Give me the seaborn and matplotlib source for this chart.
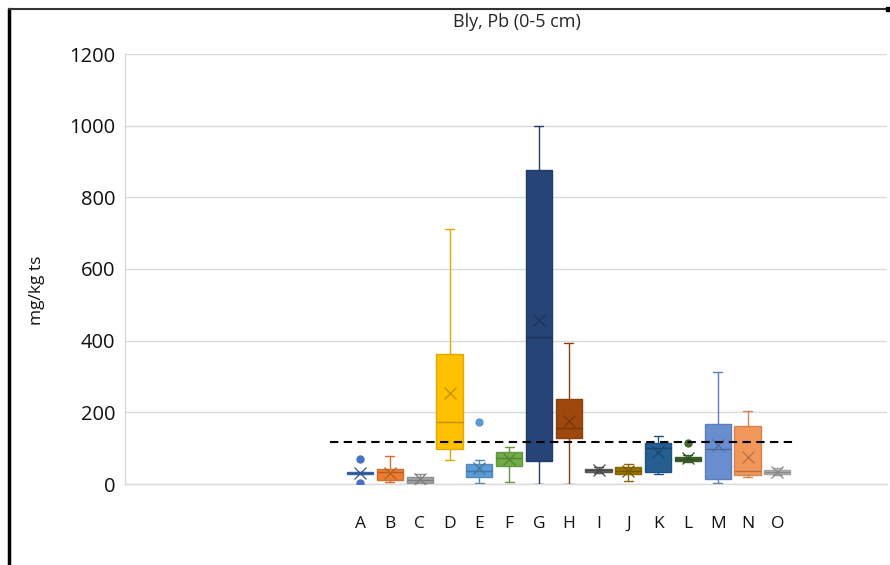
import matplotlib
matplotlib.use("Agg")
import matplotlib.pyplot as plt
from matplotlib.lines import Line2D
import matplotlib.colors as mcolors
import seaborn as sns

# Lead (Pb) concentrations per sampling area, 0-5 cm depth, mg/kg dry matter
categories = list("ABCDEFGHIJKLMNO")
q1 = [28, 11, 4, 98, 19, 51, 65, 127, 34, 27, 34, 65, 14, 24, 28]
median = [30, 33, 12, 174, 37, 72, 409, 155, 38, 37, 100, 70, 97, 37, 33]
q3 = [33, 42, 19, 363, 55, 90, 876, 237, 43, 47, 115, 76, 167, 163, 39]
whisker_low = [28, 5, 3, 66, 2, 6, 0, 0, 31, 8, 28, 62, 2, 20, 25]
whisker_high = [33, 79, 28, 711, 67, 102, 1000, 393, 47, 55, 135, 80, 312, 204, 44]
means = [31, 30, 13, 255, 45, 70, 458, 177, 38, 35, 88, 73, 109, 74, 33]
outliers = {"A": [70, 3], "E": [172], "L": [115]}

guideline = 117
guideline_span = [-1.0, 14.55]

palette = ["#4472C4", "#ED7D31", "#A5A5A5", "#FFC000", "#5B9BD5", "#70AD47",
           "#264478", "#9E480E", "#636363", "#997300", "#255E91", "#43682B",
           "#698ED0", "#F1975A", "#B7B7B7"]

sns.set_theme(style="white")
plt.rcParams["font.family"] = ["Open Sans", "DejaVu Sans"]


def shade(color, f):
    r, g, b = mcolors.to_rgb(color)
    return (r * f, g * f, b * f)


fig = plt.figure(figsize=(8.9, 5.65), dpi=100)
fig.patch.set_facecolor("white")
ax = fig.add_axes([125 / 890, 81 / 565, 762 / 890, 430 / 565])

stats = []
for i, c in enumerate(categories):
    stats.append(dict(label=c, q1=q1[i], med=median[i], q3=q3[i],
                      whislo=whisker_low[i], whishi=whisker_high[i],
                      mean=means[i], fliers=outliers.get(c, [])))

positions = list(range(len(categories)))
art = ax.bxp(stats, positions=positions, widths=0.88, capwidths=0.3,
             patch_artist=True, showmeans=True, meanline=False,
             manage_ticks=False, zorder=3)

for i, col in enumerate(palette):
    edge = shade(col, 0.88)
    dark = shade(col, 0.75)
    box = art["boxes"][i]
    box.set_facecolor(col)
    box.set_edgecolor(edge)
    box.set_linewidth(1.0)
    art["medians"][i].set_color(dark)
    art["medians"][i].set_linewidth(1.0)
    for ln in art["whiskers"][2 * i:2 * i + 2] + art["caps"][2 * i:2 * i + 2]:
        ln.set_color(edge)
        ln.set_linewidth(1.0)
    m = art["means"][i]
    m.set_marker("x")
    m.set_markersize(9)
    m.set_markeredgecolor(dark)
    m.set_markeredgewidth(0.9)
    m.set_markerfacecolor(dark)
    fl = art["fliers"][i]
    fl.set_marker("o")
    fl.set_markersize(5)
    fl.set_markerfacecolor(col)
    fl.set_markeredgecolor(col)

# reference level as a dashed line
sns.lineplot(x=guideline_span, y=[guideline, guideline], ax=ax, color="black",
             linewidth=1.5, linestyle=(0, (4, 2.6)), zorder=4)

ax.set_xlim(-7.89, 17.68)
ax.set_ylim(0, 1200)
ax.set_yticks(range(0, 1201, 200))
ax.set_xticks(positions)
ax.set_xticklabels(categories)
ax.yaxis.grid(True, color="#D9D9D9", linewidth=1.0, zorder=0)
ax.xaxis.grid(False)
ax.set_axisbelow(True)
for s in ["top", "right"]:
    ax.spines[s].set_visible(False)
ax.spines["left"].set_color("#D9D9D9")
ax.spines["bottom"].set_color("#D9D9D9")
ax.spines["left"].set_linewidth(1.0)
ax.spines["bottom"].set_linewidth(1.0)

ax.tick_params(axis="y", length=0, pad=7, labelsize=14.5, labelcolor="#111111")
ax.tick_params(axis="x", length=0, pad=23, labelsize=12.5, labelcolor="#111111")

ax.set_ylabel("mg/kg ts", fontsize=12.5, color="#111111")
ax.yaxis.set_label_coords(-0.105, 0.451)

fig.text(517 / 890, 1 - 22 / 565, "Bly, Pb (0-5 cm)", ha="center", va="center",
         fontsize=13, color="#262626")

# frame lines along top and left edge
fig.add_artist(Line2D([9 / 890, 9 / 890], [0, 1 - 9 / 565],
                      transform=fig.transFigure, color="black", linewidth=2.5))
fig.add_artist(Line2D([9 / 890, 888 / 890], [1 - 9 / 565, 1 - 9 / 565],
                      transform=fig.transFigure, color="#333333", linewidth=1.5))
fig.add_artist(Line2D([888 / 890], [1 - 9 / 565], transform=fig.transFigure,
                      marker="s", markersize=3, color="black", linestyle="none"))

fig.savefig("out.png", dpi=100, facecolor="white")
